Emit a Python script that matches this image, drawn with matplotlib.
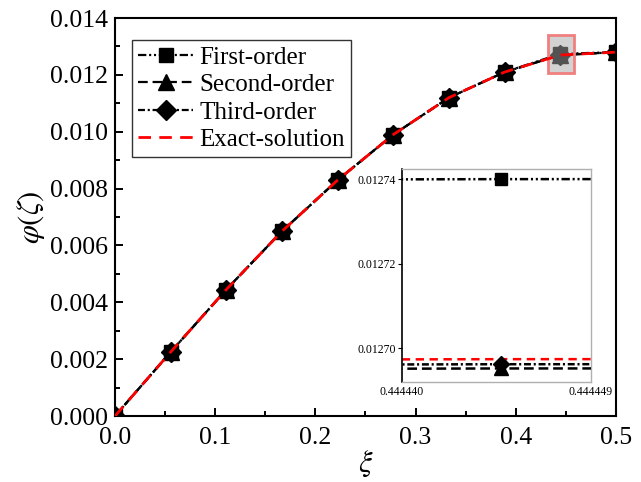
import matplotlib
matplotlib.use('Agg')
import matplotlib.pyplot as plt
from matplotlib.patches import Rectangle
from matplotlib.ticker import MultipleLocator, FormatStrFormatter

plt.rcParams['font.family'] = ['Liberation Serif', 'DejaVu Serif']
plt.rcParams['mathtext.fontset'] = 'stix'
plt.rcParams['lines.scale_dashes'] = False

# values
xi = [0.0, 0.055556, 0.111111, 0.166667, 0.222222, 0.277778,
      0.333333, 0.388889, 0.4444447, 0.5]
first_order = [0.0, 0.00225, 0.00445, 0.0065, 0.0083, 0.0099,
               0.0112, 0.0121, 0.01274, 0.0128]
second_order = [0.0, 0.00225, 0.00445, 0.0065, 0.0083, 0.0099,
                0.0112, 0.0121, 0.0126952, 0.0128]
third_order = [0.0, 0.00225, 0.00445, 0.0065, 0.0083, 0.0099,
               0.0112, 0.0121, 0.0126962, 0.0128]
exact = [0.0, 0.00225, 0.00445, 0.0065, 0.0083, 0.0099,
         0.0112, 0.0121, 0.0126974, 0.0128]

inset_xlim = (0.444440, 0.444449)
inset_ylim = (0.012692, 0.0127424)
inset_yticks = [0.01270, 0.01272, 0.01274]

styles = {
    'First-order': dict(marker='s', ms=10, dashes=(6, 2, 1.5, 2, 1.5, 2)),
    'Second-order': dict(marker='^', ms=12, dashes=(7, 3.5)),
    'Third-order': dict(marker='D', ms=10, dashes=(5, 2, 1.5, 2)),
}
series = [('First-order', first_order), ('Second-order', second_order),
          ('Third-order', third_order)]

fig = plt.figure(figsize=(6.41, 4.82), dpi=100)
ax = fig.add_axes([0.1794, 0.1369, 0.7816, 0.8257])

for name, vals in series:
    st = styles[name]
    ax.plot(xi, vals, color='black', lw=1.6, dashes=st['dashes'],
            marker=st['marker'], ms=st['ms'], mfc='black', mec='black',
            label=name, zorder=3)
ax.plot(xi, exact, color='red', lw=2, dashes=(9, 6), label='Exact-solution',
        zorder=5)

# highlighted region
ax.add_patch(Rectangle((0.432, 0.01207), 0.026, 0.00133, facecolor=(0.65, 0.65, 0.65, 0.5),
                       edgecolor='#f08080', lw=2, zorder=4))

ax.set_xlim(0, 0.5)
ax.set_ylim(0, 0.014)
ax.xaxis.set_major_locator(MultipleLocator(0.1))
ax.xaxis.set_minor_locator(MultipleLocator(0.05))
ax.yaxis.set_major_locator(MultipleLocator(0.002))
ax.yaxis.set_minor_locator(MultipleLocator(0.001))
ax.xaxis.set_major_formatter(FormatStrFormatter('%.1f'))
ax.yaxis.set_major_formatter(FormatStrFormatter('%.3f'))
ax.tick_params(which='both', direction='in', top=False, right=False,
               labelsize=18.5, width=1.4)
ax.tick_params(which='major', length=6)
ax.tick_params(which='minor', length=3.5)
ax.tick_params(axis='x', pad=8)
ax.tick_params(axis='y', pad=5)
for sp in ax.spines.values():
    sp.set_linewidth(1.5)

ax.set_xlabel(r'$\xi$', fontsize=22, labelpad=0)
ax.set_ylabel(r'$\varphi(\zeta)$', fontsize=22, labelpad=2)

leg = ax.legend(loc='upper left', bbox_to_anchor=(0.034, 0.945), borderaxespad=0,
                fontsize=18, frameon=True, fancybox=False, edgecolor='black',
                handlelength=2.2, handletextpad=0.25, labelspacing=0.2,
                borderpad=0.25)
leg.get_frame().set_linewidth(1.0)

# inset
ins = fig.add_axes([0.627, 0.2075, 0.295, 0.4419])
for name, vals in series:
    st = styles[name]
    ins.plot(xi, vals, color='black', lw=1.8, dashes=st['dashes'],
             marker=st['marker'], ms=st['ms'] * 0.8, mfc='black', mec='black',
             zorder=3)
ins.plot(xi, exact, color='red', lw=1.8, dashes=(6, 4), zorder=2)
ins.set_xlim(*inset_xlim)
ins.set_ylim(*inset_ylim)
ins.set_xticks(list(inset_xlim))
ins.set_xticklabels(['0.444440', '0.444449'])
ins.set_yticks(inset_yticks)
ins.set_yticklabels(['0.01270', '0.01272', '0.01274'])
ins.tick_params(axis='x', length=0, labelsize=8.5, pad=3)
ins.tick_params(axis='y', direction='out', length=3, labelsize=8.5, pad=1)
for side in ['top', 'right', 'bottom']:
    ins.spines[side].set_color('#b0b0b0')
    ins.spines[side].set_linewidth(1.0)
ins.spines['left'].set_linewidth(1.2)

fig.savefig('out.png', dpi=100)
